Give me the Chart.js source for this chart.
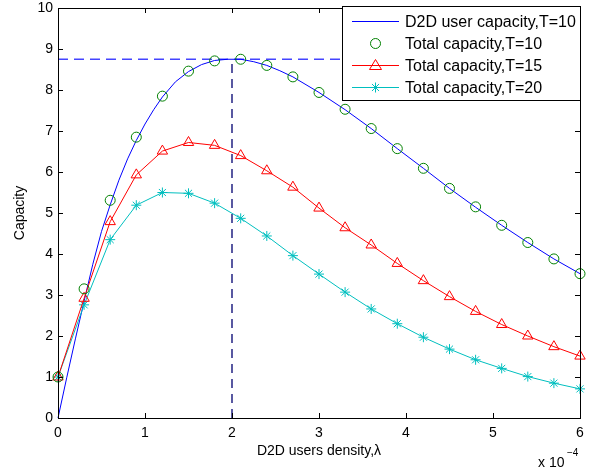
<!DOCTYPE html>
<html>
<head>
<meta charset="utf-8">
<script src="https://cdn.jsdelivr.net/npm/chart.js@4.4.1/dist/chart.umd.min.js"></script>
<style>
  html, body { margin: 0; padding: 0; background: #fff; }
  #wrap { width: 602px; height: 470px; }
</style>
</head>
<body>
<div id="wrap"><canvas id="capChart" width="602" height="470"></canvas></div>
<script>
// densidade de usuários D2D (x 10^-4)
const lambdaVals = [0, 0.3, 0.6, 0.9, 1.2, 1.5, 1.8, 2.1, 2.4, 2.7, 3.0, 3.3, 3.6, 3.9, 4.2, 4.5, 4.8, 5.1, 5.4, 5.7, 6.0];
const total10 = [1.0, 3.15, 5.31, 6.85, 7.85, 8.46, 8.71, 8.75, 8.60, 8.32, 7.94, 7.53, 7.06, 6.57, 6.09, 5.60, 5.15, 4.70, 4.28, 3.88, 3.52];
const total15 = [1.0, 2.92, 4.79, 5.93, 6.51, 6.72, 6.65, 6.40, 6.03, 5.63, 5.12, 4.64, 4.22, 3.77, 3.35, 2.96, 2.60, 2.28, 2.00, 1.74, 1.51];
const total20 = [1.0, 2.76, 4.35, 5.19, 5.50, 5.48, 5.24, 4.87, 4.44, 3.96, 3.51, 3.07, 2.66, 2.30, 1.97, 1.68, 1.42, 1.21, 1.01, 0.85, 0.71];

// curva D2D (amostragem mais fina)
const d2dX = [0, 0.1, 0.2, 0.3, 0.4, 0.5, 0.6, 0.7, 0.8, 0.9, 1.0, 1.1, 1.2, 1.35, 1.5, 1.65, 1.8, 1.95, 2.1, 2.25, 2.4, 2.55, 2.7, 3.0, 3.3, 3.6, 3.9, 4.2, 4.5, 4.8, 5.1, 5.4, 5.7, 6.0];
const d2dY = [0, 0.98, 1.93, 2.85, 3.75, 4.55, 5.2, 5.8, 6.32, 6.77, 7.17, 7.52, 7.83, 8.2, 8.45, 8.62, 8.72, 8.75, 8.75, 8.69, 8.6, 8.47, 8.32, 7.94, 7.52, 7.06, 6.57, 6.09, 5.6, 5.14, 4.7, 4.28, 3.88, 3.52];

// ponto de máximo
const peakX = 2;
const peakY = 8.75;

const xTicks = [0, 1, 2, 3, 4, 5, 6];
const yTicks = [0, 1, 2, 3, 4, 5, 6, 7, 8, 9, 10];

const legendLabels = ['D2D user capacity,T=10', 'Total capacity,T=10', 'Total capacity,T=15', 'Total capacity,T=20'];

const BLUE = '#0000ff';
const GREEN = '#008000';
const RED = '#ff0000';
const CYAN = '#00bfbf';
const FONT = '"Liberation Sans", Arial, sans-serif';

function pts(xs, ys) {
    return xs.map((x, i) => ({ x: x, y: ys[i] }));
}

function marker(ctx, kind, x, y, color) {
    ctx.save();
    ctx.strokeStyle = color;
    ctx.lineWidth = 1;
    ctx.beginPath();
    if (kind === 'circle') {
        ctx.arc(x, y, 5, 0, Math.PI * 2);
    } else if (kind === 'triangle') {
        ctx.moveTo(x, y - 6);
        ctx.lineTo(x + 6, y + 4);
        ctx.lineTo(x - 6, y + 4);
        ctx.closePath();
    } else if (kind === 'star') {
        const r = 5, d = r * Math.SQRT1_2;
        ctx.moveTo(x - r, y); ctx.lineTo(x + r, y);
        ctx.moveTo(x, y - r); ctx.lineTo(x, y + r);
        ctx.moveTo(x - d, y - d); ctx.lineTo(x + d, y + d);
        ctx.moveTo(x - d, y + d); ctx.lineTo(x + d, y - d);
    }
    ctx.stroke();
    ctx.restore();
}

// moldura, ticks internos, legenda e títulos
const framePlugin = {
    id: 'frame',
    afterDraw(chart) {
        const ctx = chart.ctx;
        const a = chart.chartArea;
        const xs = chart.scales.x, ys = chart.scales.y;
        ctx.save();
        ctx.strokeStyle = '#000';
        ctx.lineWidth = 1;
        ctx.beginPath();
        xTicks.forEach(v => {
            const px = Math.round(xs.getPixelForValue(v)) + 0.5;
            ctx.moveTo(px, a.bottom); ctx.lineTo(px, a.bottom - 5);
            ctx.moveTo(px, a.top); ctx.lineTo(px, a.top + 5);
        });
        yTicks.forEach(v => {
            const py = Math.round(ys.getPixelForValue(v)) + 0.5;
            ctx.moveTo(a.left, py); ctx.lineTo(a.left + 5, py);
            ctx.moveTo(a.right, py); ctx.lineTo(a.right - 5, py);
        });
        ctx.stroke();
        ctx.strokeRect(Math.round(a.left) + 0.5, Math.round(a.top) + 0.5, Math.round(a.right - a.left), Math.round(a.bottom - a.top));

        // legenda
        const lx = 342, ly = 6, lw = 238, lh = 94;
        ctx.fillStyle = '#fff';
        ctx.fillRect(lx, ly, lw, lh);
        ctx.strokeRect(lx + 0.5, ly + 0.5, lw, lh);
        const rows = [21.5, 43.5, 65.5, 87.5];
        const cols = [BLUE, GREEN, RED, CYAN];
        const kinds = [null, 'circle', 'triangle', 'star'];
        ctx.font = '16px ' + FONT;
        ctx.textBaseline = 'middle';
        ctx.textAlign = 'left';
        rows.forEach((ry, i) => {
            if (i !== 1) {
                ctx.strokeStyle = cols[i];
                ctx.beginPath();
                ctx.moveTo(352, ry); ctx.lineTo(399, ry);
                ctx.stroke();
            }
            if (kinds[i]) marker(ctx, kinds[i], 375.5, ry, cols[i]);
            ctx.fillStyle = '#000';
            ctx.fillText(legendLabels[i], 405, ry + 1);
        });

        // títulos dos eixos
        ctx.fillStyle = '#000';
        ctx.font = '14px ' + FONT;
        ctx.textAlign = 'center';
        ctx.fillText('D2D users density,\u03bb', (a.left + a.right) / 2, 451);
        ctx.save();
        ctx.translate(20, (a.top + a.bottom) / 2);
        ctx.rotate(-Math.PI / 2);
        ctx.fillText('Capacity', 0, 0);
        ctx.restore();
        ctx.textAlign = 'left';
        ctx.fillText('x 10', 538, 463);
        ctx.font = '10px ' + FONT;
        ctx.fillText('\u22124', 567, 453);
        ctx.restore();
    }
};

const ctx = document.getElementById('capChart').getContext('2d');
const chart = new Chart(ctx, {
    type: 'line',
    data: {
        datasets: [
            {
                label: 'peakH',
                data: [{ x: 0, y: peakY }, { x: 6, y: peakY }],
                borderColor: '#4444ff',
                borderWidth: 1.3,
                borderDash: [10, 6],
                pointRadius: 0,
                order: 5
            },
            {
                label: 'peakV',
                data: [{ x: peakX, y: 0 }, { x: peakX, y: peakY }],
                borderColor: '#000070',
                borderWidth: 1.3,
                borderDash: [9, 6],
                pointRadius: 0,
                order: 5
            },
            {
                label: legendLabels[0],
                data: pts(d2dX, d2dY),
                borderColor: BLUE,
                borderWidth: 1,
                pointRadius: 0,
                order: 4
            },
            {
                label: legendLabels[1],
                data: pts(lambdaVals, total10),
                showLine: false,
                pointStyle: 'circle',
                pointRadius: 5,
                pointBorderColor: GREEN,
                pointBackgroundColor: 'rgba(0,0,0,0)',
                pointBorderWidth: 1,
                order: 1
            },
            {
                label: legendLabels[2],
                data: pts(lambdaVals, total15),
                borderColor: RED,
                borderWidth: 1,
                pointStyle: 'triangle',
                pointRadius: 6,
                pointBorderColor: RED,
                pointBackgroundColor: 'rgba(0,0,0,0)',
                pointBorderWidth: 1,
                order: 2
            },
            {
                label: legendLabels[3],
                data: pts(lambdaVals, total20),
                borderColor: CYAN,
                borderWidth: 1,
                pointStyle: 'star',
                pointRadius: 5,
                pointBorderColor: CYAN,
                pointBackgroundColor: CYAN,
                pointBorderWidth: 1,
                order: 3
            }
        ]
    },
    options: {
        responsive: false,
        animation: false,
        clip: false,
        layout: { padding: { top: 8, right: 22, left: 0, bottom: 0 } },
        plugins: {
            legend: { display: false },
            tooltip: { enabled: false }
        },
        elements: { line: { tension: 0 } },
        scales: {
            x: {
                type: 'linear',
                min: 0,
                max: 6,
                grid: { display: false, drawTicks: false },
                border: { display: false },
                afterFit: s => { s.height = 52; s.paddingLeft = 0; s.paddingRight = 0; },
                afterBuildTicks: s => { s.ticks = xTicks.map(v => ({ value: v })); },
                ticks: {
                    padding: 7,
                    color: '#000',
                    font: { family: FONT, size: 14 },
                    maxRotation: 0
                }
            },
            y: {
                type: 'linear',
                min: 0,
                max: 10,
                grid: { display: false, drawTicks: false },
                border: { display: false },
                afterFit: s => { s.width = 58; s.paddingTop = 0; s.paddingBottom = 0; },
                afterBuildTicks: s => { s.ticks = yTicks.map(v => ({ value: v })); },
                ticks: {
                    padding: 5,
                    color: '#000',
                    font: { family: FONT, size: 14 }
                }
            }
        }
    },
    plugins: [framePlugin]
});
</script>
</body>
</html>
